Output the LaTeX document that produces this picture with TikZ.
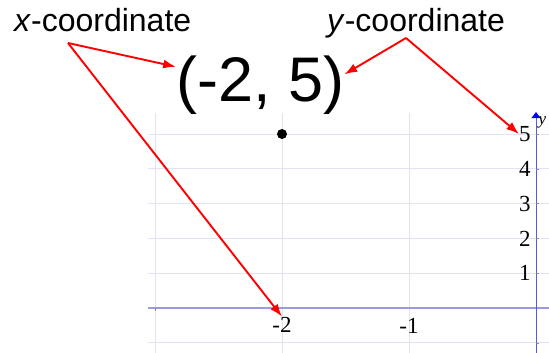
\documentclass[tikz,border=0pt]{standalone}
\usepackage{fontspec}
\setmainfont{Liberation Sans}
\newfontfamily\serifnum{Liberation Serif}
\usepackage{xcolor}
\usepackage{tikz}
\usetikzlibrary{arrows.meta}
\definecolor{gridlav}{HTML}{E2E2F2}
\definecolor{xaxislav}{HTML}{9A9AE0}
\definecolor{yaxisblue}{HTML}{5A5ADC}
\tikzset{
  pairlabel/.style={font=\fontsize{63}{70}\selectfont,inner sep=0pt,anchor=base west},
  namelabel/.style={font=\fontsize{32}{38}\selectfont,inner sep=0pt,anchor=base west},
  ticklabel/.style={font=\serifnum\fontsize{23}{25}\selectfont,inner sep=0pt},
  gridline/.style={draw=gridlav,line width=0.8pt},
  xaxisline/.style={draw=xaxislav,line width=1.5pt},
  yaxisline/.style={draw=yaxisblue,line width=1pt,-{Triangle[length=6pt,width=9pt,color=blue]}},
  axistick/.style={draw=black!45,line width=0.6pt},
  pointer/.style={-{Latex[length=4.5mm,width=3.2mm]},line width=1.9pt,draw=red}
}
\begin{document}
\begin{tikzpicture}[x=1pt,y=-1pt]
  \useasboundingbox (0,0) rectangle (549,353);
  \begin{scope}[shift={(536,308)},x=127pt,y=34.8pt]
    \foreach \gx in {-3,-2,-1}
      \draw[gridline] (\gx,-1.3) -- (\gx,5.6);
    \foreach \gy in {-1,1,2,3,4,5}
      \draw[gridline] (-3.055,\gy) -- (0.103,\gy);
    \draw[xaxisline] (-3.055,0) -- (0.103,0);
    \draw[yaxisline] (0,-1.3) -- (0,5.63);
    \foreach \gy in {-1,1,2,3,4,5}
      \draw[axistick] (0,\gy) -- ++(3pt,0);
    \draw[axistick] (-3,0) -- ++(0,-3pt);
    \foreach \n in {1,...,5}
      \node[ticklabel,anchor=east] (p\n) at (-0.04,\n) {\n};
    \node[ticklabel,anchor=north] (m2) at (-2,-0.25) {-2};
    \node[ticklabel,anchor=north] (m1) at (-1,-0.3) {-1};
    \node[font=\serifnum\itshape\fontsize{17}{19}\selectfont,anchor=north west,inner sep=0pt] (ylab) at (0.02,5.5) {y};
    \fill (-2,5) circle (5pt);
  \end{scope}

  \node[namelabel] (xname) at (14,31.5) {\textit{x}-coordinate};
  \node[namelabel] (yname) at (327,31.5) {\textit{y}-coordinate};
  \node[pairlabel] (pair) at (176,101) {(-2, 5)};
  \coordinate (xfoot) at (68,43);
  \coordinate (yfoot) at (406,38);

  \draw[pointer] (xfoot) -- (pair.168);
  \draw[pointer] (xfoot) -- (m2.north);
  \draw[pointer] (yfoot) -- (pair.7);
  \draw[pointer] (yfoot) -- (p5.west);
\end{tikzpicture}
\end{document}
